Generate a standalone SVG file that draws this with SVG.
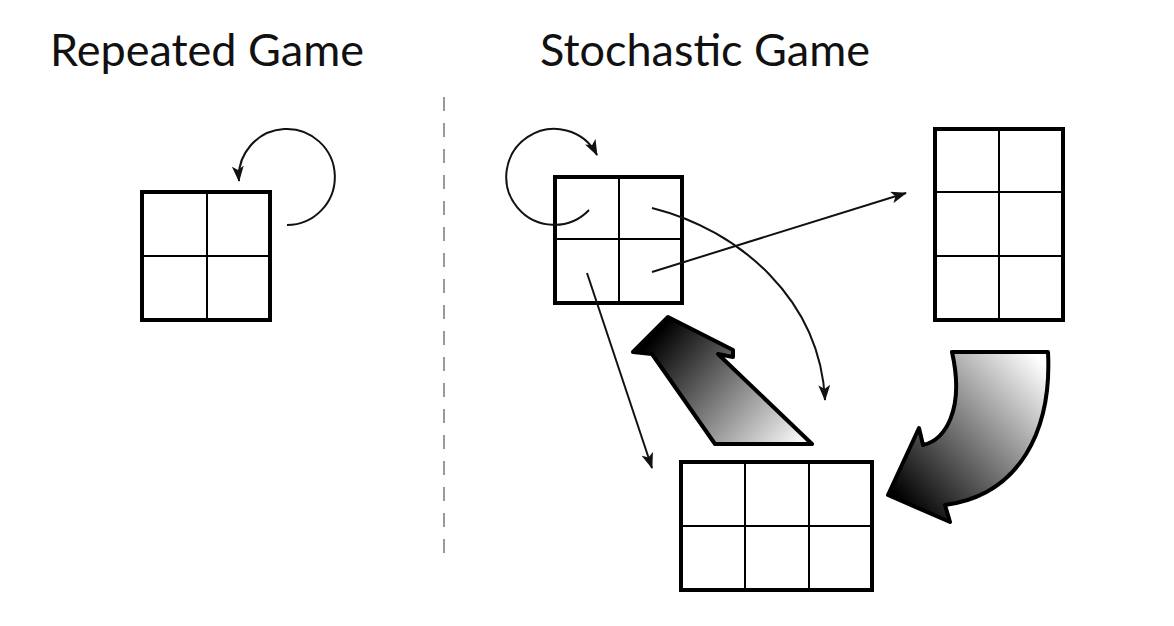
<svg xmlns="http://www.w3.org/2000/svg" width="1174" height="626" viewBox="0 0 1174 626">
<style>
.title{font-family:Lato,"Open Sans",sans-serif;font-size:45px;fill:#111}
.frame{fill:none;stroke:#000;stroke-width:4}
.grid{stroke:#000;stroke-width:2;fill:none}
.conn{fill:none;stroke:#111;stroke-width:2}
.big{stroke:#000;stroke-width:4;stroke-linejoin:round}
</style>
<defs>
<marker id="ah" viewBox="0 0 16 12" refX="15" refY="6" markerWidth="16" markerHeight="12" markerUnits="userSpaceOnUse" orient="auto">
<path d="M0,0 L16,6 L0,12 L4,6 Z" fill="#111"/>
</marker>
<linearGradient id="g1" gradientUnits="userSpaceOnUse" x1="660" y1="330" x2="800" y2="450">
<stop offset="0" stop-color="#000"/><stop offset="1" stop-color="#fff"/>
</linearGradient>
<linearGradient id="g2" gradientUnits="userSpaceOnUse" x1="900" y1="500" x2="1045" y2="365">
<stop offset="0" stop-color="#000"/><stop offset="1" stop-color="#fff"/>
</linearGradient>
</defs>
<text class="title" x="50" y="66">Repeated Game</text>
<text class="title" x="540" y="66">Stochastic Game</text>
<line x1="444" y1="97" x2="444" y2="556" stroke="#9a9a9a" stroke-width="2" stroke-dasharray="14 12"/>
<g id="repeated">
<rect class="frame" x="142" y="192" width="128" height="128"/>
<path class="grid" d="M207,192 V320 M142,256 H270"/>
</g>
<g id="state1">
<rect class="frame" x="555" y="177" width="127" height="126"/>
<path class="grid" d="M619,177 V303 M555,239 H682"/>
</g>
<g id="state2">
<rect class="frame" x="935" y="129" width="128" height="191"/>
<path class="grid" d="M999,129 V320 M935,192 H1063 M935,256 H1063"/>
</g>
<g id="state3">
<rect class="frame" x="681" y="462" width="191" height="128"/>
<path class="grid" d="M745,462 V590 M809,462 V590 M681,526 H872"/>
</g>
<g id="connectors">
<path class="conn" d="M287,225 A48,48 0 1 0 239,181" marker-end="url(#ah)"/>
<path class="conn" d="M589,210 A48,48 0 1 1 597,155" marker-end="url(#ah)"/>
<path class="conn" d="M652,208 C740,230 820,300 825,400" marker-end="url(#ah)"/>
<path class="conn" d="M652,272 L906,193" marker-end="url(#ah)"/>
<path class="conn" d="M587,273 L652,468" marker-end="url(#ah)"/>
<path class="big" fill="url(#g1)" d="M668,317 L733,350 L733,357 L718,354 L812,444 L715,444 L652,354 L633,352 Z"/>
<path class="big" fill="url(#g2)" d="M952,352 L1048,352 C1052,430 1020,495 945,505 L950,522 L888,495 L919,428 L923,445 C945,440 965,410 952,352 Z"/>
</g>
</svg>
